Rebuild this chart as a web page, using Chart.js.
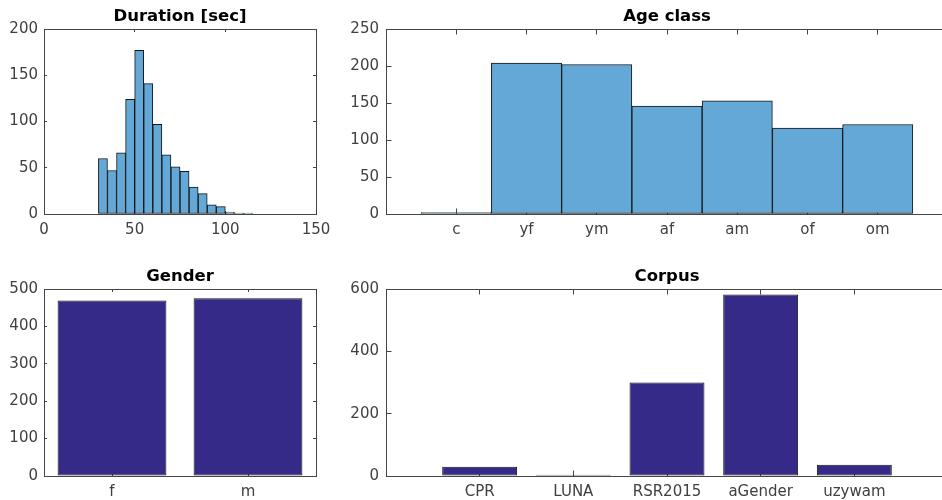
<!DOCTYPE html>
<html><head><meta charset="utf-8">
<script src="https://cdn.jsdelivr.net/npm/chart.js@4.4.1/dist/chart.umd.min.js"></script>
<style>
html,body{margin:0;padding:0;width:942px;height:500px;overflow:hidden;background:#fff;}
canvas{position:absolute;}
</style></head><body>
<canvas id="c1" width="330" height="250" style="left:0;top:0"></canvas>
<canvas id="c2" width="640" height="250" style="left:330px;top:0"></canvas>
<canvas id="c3" width="330" height="250" style="left:0;top:250px"></canvas>
<canvas id="c4" width="640" height="250" style="left:330px;top:250px"></canvas>
<script>
// ---- data ----
const durationBinStart = [30,35,40,45,50,55,60,65,70,75,80,85,90,95,100,105,110];
const durationBinWidth = 5;
const durationCounts = [60,47,66,124,177,141,97,64,51,46,29,22,10,8,2,1,1];
const ageClasses = ['c','yf','ym','af','am','of','om'];
const ageCounts = [2,204,202,146,153,116,121];
const genders = ['f','m'];
const genderCounts = [469,475];
const corpora = ['CPR','LUNA','RSR2015','aGender','uzywam'];
const corpusCounts = [30,4,300,582,36];

// ---- style ----
const AX = '#454545';
const HIST = 'rgb(99,168,214)';
const BAR = 'rgb(53,42,135)';
const EDGE = '#141414';
Chart.defaults.font.family = "'DejaVu Sans', sans-serif";
Chart.defaults.font.size = 15;
Chart.defaults.color = '#404040';
Chart.defaults.animation = false;

const fixH = h => s => { s.height = h; s.paddingLeft = 0; s.paddingRight = 0; };
const fixW = w => s => { s.width = w; s.paddingTop = 0; s.paddingBottom = 0; };

function makeScales(o) {
  const common = (extra, showBorder = true) => Object.assign({
    border: {display: showBorder, color: AX, width: 1},
    grid: {drawOnChartArea: false, offset: false, color: AX, tickLength: -o.tl, tickWidth: 1}
  }, extra);
  const xBase = o.xType === 'category'
    ? {type: 'category', offset: true}
    : {type: 'linear', min: o.xMin, max: o.xMax, offset: false};
  const xt = o.xType === 'category' ? {} : {stepSize: o.xStep, autoSkip: false};
  const bt = Object.assign({padding: o.xPad, maxRotation: 0, minRotation: 0}, xt);
  if (o.xLabel) bt.callback = o.xLabel;
  return {
    x: common(Object.assign({}, xBase, {position: 'bottom', ticks: bt, afterFit: fixH(o.xH)})),
    xt: common(Object.assign({}, xBase, {position: 'top',
      ticks: Object.assign({display: false}, xt),
      title: {display: true, text: o.title, color: '#000',
        font: {size: 16.5, weight: 'bold'}, padding: {top: o.tPad, bottom: 0}},
      afterFit: fixH(o.tH)})),
    y: common({type: 'linear', position: 'left', min: 0, max: o.yMax,
      ticks: {stepSize: o.yStep, padding: o.yPad}, afterFit: fixW(o.yW)}),
    yr: common({type: 'linear', position: 'right', min: 0, max: o.yMax,
      ticks: {display: false, stepSize: o.yStep}, afterFit: fixW(0)}, !o.offRight)
  };
}

function opts(padRight, scales) {
  return {
    responsive: false, devicePixelRatio: 1, animation: false,
    layout: {padding: {left: 0, right: padRight, top: 0, bottom: 0}},
    plugins: {legend: {display: false}, tooltip: {enabled: false}, title: {display: false}},
    scales
  };
}

const barBase = {borderColor: EDGE, borderWidth: 1, borderSkipped: false, grouped: false};

// Duration histogram
new Chart(document.getElementById('c1'), {
  type: 'bar',
  data: {datasets: [Object.assign({
    data: durationBinStart.map((s, i) => ({x: s + durationBinWidth / 2, y: durationCounts[i]})),
    backgroundColor: HIST, barPercentage: 1, categoryPercentage: 1}, barBase)]},
  options: opts(14, makeScales({
    title: 'Duration [sec]', tH: 29, tPad: 7,
    xType: 'linear', xMin: 0, xMax: 150, xStep: 50, tl: 3, xPad: 10, xH: 36,
    yMax: 200, yStep: 50, yPad: 9, yW: 44}))
});

// Age class (plot box continues past the right edge of the picture)
new Chart(document.getElementById('c2'), {
  type: 'bar',
  data: {datasets: [Object.assign({
    data: ageCounts.map((v, i) => ({x: i + 1, y: v})),
    backgroundColor: HIST, barPercentage: 1, categoryPercentage: 1}, barBase)]},
  options: opts(22, makeScales({
    title: 'Age class', tH: 29, tPad: 7, offRight: true,
    xType: 'linear', xMin: 0, xMax: ageClasses.length + 1, xStep: 1,
    xLabel: v => ageClasses[v - 1] ?? '', tl: 5.5, xPad: 12.5, xH: 36,
    yMax: 250, yStep: 50, yPad: 12.5, yW: 56}))
});

// Gender
new Chart(document.getElementById('c3'), {
  type: 'bar',
  data: {labels: genders, datasets: [Object.assign({
    data: genderCounts, backgroundColor: BAR, barPercentage: 0.8, categoryPercentage: 1}, barBase)]},
  options: opts(14, makeScales({
    title: 'Gender', tH: 39, tPad: 17,
    xType: 'category', tl: 3, xPad: 10, xH: 24,
    yMax: 500, yStep: 100, yPad: 9, yW: 44}))
});

// Corpus
new Chart(document.getElementById('c4'), {
  type: 'bar',
  data: {datasets: [Object.assign({
    data: corpusCounts.map((v, i) => ({x: i + 1, y: v})),
    backgroundColor: BAR, barPercentage: 0.8, categoryPercentage: 1}, barBase)]},
  options: opts(22, makeScales({
    title: 'Corpus', tH: 39, tPad: 17, offRight: true,
    xType: 'linear', xMin: 0, xMax: corpora.length + 1, xStep: 1,
    xLabel: v => corpora[v - 1] ?? '', tl: 5.5, xPad: 12.5, xH: 24,
    yMax: 600, yStep: 200, yPad: 12.5, yW: 56}))
});
</script>
</body></html>
